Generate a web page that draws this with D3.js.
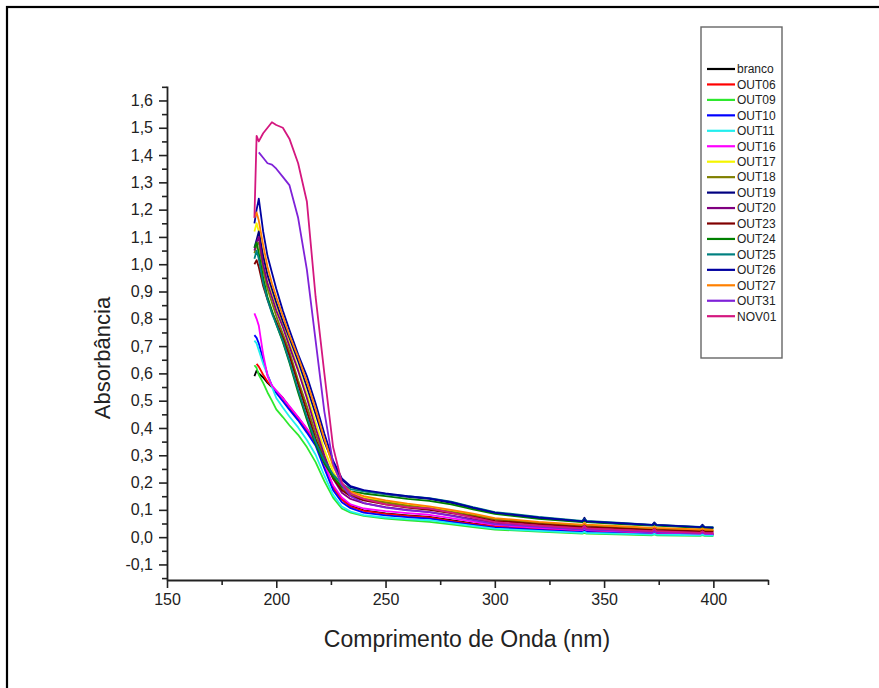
<!DOCTYPE html>
<html>
<head>
<meta charset="utf-8">
<script src="https://cdn.jsdelivr.net/npm/d3@7"></script>
<style>
  body { margin: 0; background: #fff; }
  svg { display: block; font-family: "Liberation Sans", Arial, sans-serif; }
  .axis path, .axis line { stroke: #222; }
  .axis text { fill: #222; }
</style>
</head>
<body>
<svg id="chart" width="879" height="688"></svg>
<script>
//------------------------------------------------------------------------------
// Data
//------------------------------------------------------------------------------

var wavelengths = [190,191,192,194,196,198,200,203,206,210,214,218,222,226,230,234,240,250,260,270,280,290,300,320,340,341,342,360,372,373,374,394,395,396,400];

var branco = [0.59,0.61,0.60,0.585,0.565,0.55,0.535,0.51,0.478,0.438,0.395,0.35,0.265,0.185,0.14,0.115,0.098,0.087,0.08,0.074,0.062,0.05,0.04,0.031,0.023,0.027,0.023,0.018,0.015,0.019,0.015,0.012,0.016,0.012,0.011];
var out06 = [null,0.635,0.625,0.595,0.57,0.552,0.535,0.508,0.476,0.436,0.392,0.345,0.26,0.18,0.137,0.112,0.096,0.085,0.078,0.072,0.06,0.049,0.039,0.03,0.022,0.026,0.022,0.017,0.014,0.018,0.014,0.011,0.015,0.011,0.01];
var out09 = [0.63,0.62,0.595,0.565,0.53,0.5,0.468,0.44,0.41,0.375,0.33,0.275,0.205,0.145,0.105,0.09,0.078,0.068,0.062,0.056,0.047,0.037,0.028,0.02,0.013,0.016,0.013,0.009,0.007,0.01,0.007,0.005,0.007,0.005,0.004];
var out10 = [0.74,0.73,0.71,0.65,0.595,0.555,0.528,0.498,0.467,0.428,0.383,0.335,0.252,0.172,0.128,0.106,0.09,0.08,0.073,0.068,0.056,0.045,0.035,0.027,0.019,0.023,0.019,0.014,0.011,0.014,0.011,0.009,0.012,0.009,0.008];
var out11 = [0.72,0.71,0.685,0.635,0.595,0.55,0.51,0.475,0.442,0.402,0.356,0.302,0.225,0.155,0.112,0.094,0.081,0.072,0.066,0.062,0.051,0.041,0.031,0.023,0.016,0.019,0.016,0.012,0.009,0.012,0.009,0.007,0.009,0.007,0.006];
var out16 = [0.82,0.80,0.775,0.67,0.59,0.556,0.537,0.51,0.48,0.44,0.398,0.352,0.27,0.19,0.145,0.12,0.105,0.095,0.088,0.082,0.07,0.057,0.045,0.034,0.026,0.031,0.026,0.02,0.017,0.021,0.017,0.013,0.017,0.013,0.012];
var out17 = [1.12,1.15,1.12,1.03,0.96,0.90,0.85,0.78,0.71,0.62,0.525,0.42,0.32,0.24,0.185,0.16,0.145,0.13,0.118,0.108,0.096,0.082,0.067,0.053,0.043,0.047,0.043,0.036,0.032,0.035,0.032,0.026,0.029,0.026,0.025];
var out18 = [1.04,1.07,1.08,0.98,0.91,0.86,0.81,0.745,0.68,0.575,0.48,0.38,0.29,0.225,0.178,0.155,0.14,0.127,0.115,0.105,0.093,0.08,0.065,0.052,0.042,0.046,0.042,0.035,0.031,0.034,0.031,0.025,0.028,0.025,0.024];
var out19 = [1.06,1.09,1.12,1.03,0.96,0.91,0.86,0.79,0.73,0.645,0.55,0.45,0.35,0.27,0.21,0.183,0.17,0.158,0.148,0.14,0.126,0.106,0.088,0.07,0.057,0.071,0.057,0.049,0.044,0.054,0.044,0.036,0.046,0.036,0.034];
var out20 = [1.05,1.08,1.10,1.0,0.93,0.88,0.83,0.77,0.70,0.61,0.51,0.40,0.30,0.215,0.163,0.14,0.125,0.11,0.10,0.092,0.08,0.066,0.052,0.042,0.033,0.037,0.033,0.026,0.022,0.025,0.022,0.018,0.021,0.018,0.018];
var out23 = [1.0,1.015,0.99,0.92,0.87,0.825,0.79,0.73,0.665,0.56,0.46,0.36,0.28,0.215,0.172,0.15,0.135,0.12,0.108,0.10,0.088,0.075,0.06,0.048,0.038,0.042,0.038,0.031,0.027,0.03,0.027,0.022,0.025,0.022,0.021];
var out24 = [1.06,1.08,1.04,0.95,0.88,0.83,0.78,0.715,0.64,0.53,0.43,0.34,0.27,0.22,0.185,0.168,0.16,0.15,0.14,0.133,0.12,0.102,0.085,0.067,0.055,0.06,0.055,0.047,0.042,0.046,0.042,0.034,0.037,0.034,0.033];
var out25 = [1.02,1.05,1.02,0.93,0.87,0.82,0.78,0.72,0.645,0.54,0.44,0.35,0.28,0.23,0.195,0.176,0.168,0.158,0.15,0.143,0.13,0.11,0.092,0.074,0.06,0.066,0.06,0.051,0.045,0.05,0.045,0.038,0.042,0.038,0.037];
var out26 = [1.15,1.20,1.24,1.12,1.03,0.97,0.91,0.83,0.76,0.67,0.59,0.49,0.38,0.28,0.215,0.187,0.172,0.16,0.15,0.142,0.128,0.108,0.09,0.072,0.058,0.064,0.058,0.05,0.045,0.049,0.045,0.037,0.041,0.037,0.035];
var out27 = [1.17,1.19,1.16,1.07,0.99,0.93,0.88,0.81,0.74,0.66,0.57,0.47,0.36,0.26,0.195,0.167,0.15,0.135,0.123,0.113,0.10,0.086,0.07,0.056,0.046,0.052,0.046,0.039,0.034,0.038,0.034,0.028,0.031,0.028,0.027];
var out31 = [null,null,1.41,1.39,1.37,1.365,1.35,1.32,1.29,1.17,0.98,0.72,0.46,0.27,0.19,0.15,0.125,0.108,0.098,0.092,0.078,0.062,0.048,0.038,0.028,0.033,0.028,0.022,0.018,0.022,0.018,0.014,0.017,0.014,0.013];
var nov01 = [1.17,1.47,1.45,1.48,1.50,1.52,1.51,1.50,1.46,1.37,1.23,0.88,0.60,0.33,0.2,0.16,0.14,0.12,0.11,0.105,0.09,0.072,0.055,0.042,0.032,0.042,0.032,0.026,0.022,0.03,0.022,0.016,0.022,0.016,0.015];

var seriesNames = ["branco","OUT06","OUT09","OUT10","OUT11","OUT16","OUT17","OUT18","OUT19","OUT20","OUT23","OUT24","OUT25","OUT26","OUT27","OUT31","NOV01"];
var seriesColors = ["#000000","#ff0000","#2ee82e","#0000ff","#22eeee","#ff00ff","#f5f500","#808000","#000080","#800080","#800000","#008000","#008080","#0000a0","#ff8000","#7f22d8","#d4177f"];
var seriesValues = [branco,out06,out09,out10,out11,out16,out17,out18,out19,out20,out23,out24,out25,out26,out27,out31,nov01];

var xMajorTicks = [150,200,250,300,350,400];
var xMinorTicks = [175,225,275,325,375,425];
var yMajorTicks = [-0.1,0,0.1,0.2,0.3,0.4,0.5,0.6,0.7,0.8,0.9,1.0,1.1,1.2,1.3,1.4,1.5,1.6];
var yMinorTicks = [-0.15,-0.05,0.05,0.15,0.25,0.35,0.45,0.55,0.65,0.75,0.85,0.95,1.05,1.15,1.25,1.35,1.45,1.55,1.65];

//------------------------------------------------------------------------------
// Chart
//------------------------------------------------------------------------------

var svg = d3.select("#chart");

// outer frame of the exported figure (right/bottom run off the page)
svg.append("rect")
  .attr("x", 7).attr("y", 7)
  .attr("width", 920).attr("height", 720)
  .attr("fill", "none")
  .attr("stroke", "#000")
  .attr("stroke-width", 2.2);

var x = d3.scaleLinear().domain([150, 425]).range([167, 768]);
var y = d3.scaleLinear().domain([-0.157, 1.653]).range([580, 86]);

var fmt = d3.format(".1f");
var yFormat = function(d) { return fmt(d).replace(".", ",").replace("\u2212", "-"); };

// minor ticks first, majors on top
svg.append("g")
  .attr("class", "axis")
  .attr("transform", "translate(0,580)")
  .call(d3.axisBottom(x).tickValues(xMinorTicks).tickSize(5).tickSizeOuter(0).tickFormat(""))
  .call(function(g) { g.select(".domain").remove(); });

svg.append("g")
  .attr("class", "axis")
  .attr("transform", "translate(167,0)")
  .call(d3.axisLeft(y).tickValues(yMinorTicks).tickSize(5).tickSizeOuter(0).tickFormat(""))
  .call(function(g) { g.select(".domain").remove(); });

var xAxis = svg.append("g")
  .attr("class", "axis")
  .attr("transform", "translate(0,580)")
  .call(d3.axisBottom(x).tickValues(xMajorTicks).tickSize(8).tickSizeOuter(0).tickPadding(6));

var yAxis = svg.append("g")
  .attr("class", "axis")
  .attr("transform", "translate(167,0)")
  .call(d3.axisLeft(y).tickValues(yMajorTicks).tickSize(8).tickSizeOuter(0).tickPadding(6).tickFormat(yFormat));

svg.selectAll(".axis .tick line").attr("stroke-width", 1.6);
svg.selectAll(".axis .domain").attr("stroke-width", 1.8);
svg.selectAll(".axis text")
  .attr("font-family", "'Liberation Sans', Arial, sans-serif")
  .attr("font-size", 16);

// axis titles
svg.append("text")
  .attr("x", 467)
  .attr("y", 647)
  .attr("text-anchor", "middle")
  .attr("font-size", 23)
  .attr("fill", "#222")
  .text("Comprimento de Onda (nm)");

svg.append("text")
  .attr("transform", "translate(110,358) rotate(-90)")
  .attr("text-anchor", "middle")
  .attr("font-size", 22)
  .attr("fill", "#222")
  .text("Absorbância");

// series
var series = seriesNames.map(function(name, i) {
  return {
    name: name,
    color: seriesColors[i],
    points: wavelengths.map(function(w, j) { return {x: w, y: seriesValues[i][j]}; })
  };
});

var line = d3.line()
  .defined(function(d) { return d.y != null; })
  .x(function(d) { return x(d.x); })
  .y(function(d) { return y(d.y); });

svg.append("g")
  .selectAll("path")
  .data(series)
  .enter().append("path")
    .attr("d", function(d) { return line(d.points); })
    .attr("fill", "none")
    .attr("stroke", function(d) { return d.color; })
    .attr("stroke-width", 1.8)
    .attr("stroke-linejoin", "round");

// legend
var legend = svg.append("g").attr("transform", "translate(701,27)");

legend.append("rect")
  .attr("width", 81)
  .attr("height", 331)
  .attr("fill", "#fff")
  .attr("stroke", "#666")
  .attr("stroke-width", 1.4);

var item = legend.selectAll(".item")
  .data(series)
  .enter().append("g")
    .attr("class", "item")
    .attr("transform", function(d, i) { return "translate(0," + (42 + i * 15.45) + ")"; });

item.append("line")
  .attr("x1", 6).attr("x2", 34)
  .attr("stroke", function(d) { return d.color; })
  .attr("stroke-width", 2.2);

item.append("text")
  .attr("x", 36)
  .attr("dy", "0.36em")
  .attr("font-size", 12)
  .attr("fill", "#222")
  .text(function(d) { return d.name; });
</script>
</body>
</html>
